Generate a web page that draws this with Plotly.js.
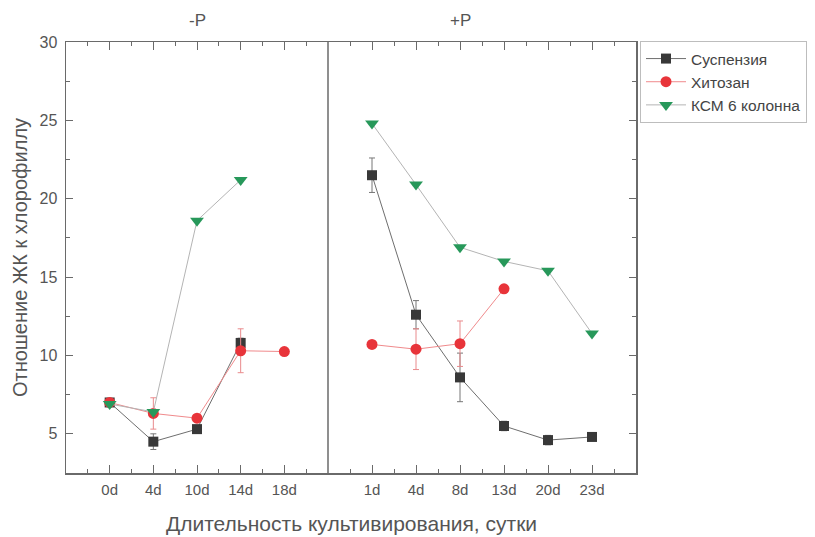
<!DOCTYPE html>
<html>
<head>
<meta charset="utf-8">
<script src="https://cdn.plot.ly/plotly-3.0.1.min.js"></script>
<style>html,body{margin:0;padding:0;background:#fff;}#chart{width:815px;height:537px;}</style>
</head>
<body>
<div id="chart"></div>
<script>
// Categories
const daysMinusP = ["0d", "4d", "10d", "14d", "18d"];
const daysPlusP = ["1d", "4d", "8d", "13d", "20d", "23d"];
const seriesNames = ["Суспензия", "Хитозан", "КСМ 6 колонна"];

// -P panel values
const suspMinus = [7.0, 4.5, 5.3, 10.8, null];
const suspMinusErr = [0.15, 0.5, 0.2, 0.3, 0];
const chitMinus = [7.0, 6.3, 6.0, 10.3, 10.25];
const chitMinusErr = [0.15, 1.0, 0.2, 1.4, 0.1];
const ksmMinus = [6.9, 6.4, 18.6, 21.2, null];

// +P panel values
const suspPlus = [21.5, 12.6, 8.6, 5.5, 4.6, 4.8];
const suspPlusErr = [1.1, 0.9, 1.55, 0.3, 0.3, 0.1];
const chitPlus = [10.7, 10.4, 10.75, 14.25, null, null];
const chitPlusErr = [0.1, 1.3, 1.45, 0.1, 0, 0];
const ksmPlus = [24.8, 20.9, 16.9, 16.0, 15.4, 11.4];

const idxMinus = daysMinusP.map((d, i) => i);
const idxPlus = daysPlusP.map((d, i) => i);

const cBlack = "#383838", cRed = "#e8343a", cGreen = "#27985a";
const lBlack = "#6e6e6e", lRed = "#f08a8c", lGreen = "#b4b4b4";

function tr(x, y, err, name, xa, ya, mcol, lcol, sym, size, show, ecol) {
  const t = {
    x: x, y: y, name: name, xaxis: xa, yaxis: ya, type: "scatter",
    mode: "lines+markers", connectgaps: false, showlegend: show, legendgroup: name,
    line: {color: lcol, width: 1},
    marker: {color: mcol, symbol: sym, size: size, line: {width: 0}}
  };
  if (err) t.error_y = {type: "data", array: err, visible: true, color: ecol, thickness: 1, width: 3};
  return t;
}

const data = [
  tr(idxMinus, suspMinus, suspMinusErr, seriesNames[0], "x", "y", cBlack, lBlack, "square", 10, true, "#777"),
  tr(idxMinus, chitMinus, chitMinusErr, seriesNames[1], "x", "y", cRed, lRed, "circle", 11, true, "#e98a8c"),
  tr(idxMinus, ksmMinus, null, seriesNames[2], "x", "y", cGreen, lGreen, "triangle-down", 12, true),
  tr(idxPlus, suspPlus, suspPlusErr, seriesNames[0], "x2", "y2", cBlack, lBlack, "square", 10, false, "#777"),
  tr(idxPlus, chitPlus, chitPlusErr, seriesNames[1], "x2", "y2", cRed, lRed, "circle", 11, false, "#e98a8c"),
  tr(idxPlus, ksmPlus, null, seriesNames[2], "x2", "y2", cGreen, lGreen, "triangle-down", 12, false)
];

const split = 262 / 570;
const axCol = "#6a6a6a";
const fam = "Liberation Sans, Arial, sans-serif";
const xTickFont = {family: fam, size: 15, color: "#555"};
const yTickFont = {family: fam, size: 16, color: "#555"};

function xAxis(dom, n, labels, anchor) {
  const half = [];
  for (let i = -1; i < n; i++) half.push(i + 0.5);
  return {
    domain: dom, anchor: anchor, range: [-1, n], tickmode: "array",
    tickvals: labels.map((d, i) => i), ticktext: labels,
    ticks: "inside", ticklen: 8, tickwidth: 1, tickcolor: axCol,
    minor: {tickmode: "array", tickvals: half, ticks: "inside", ticklen: 4, tickcolor: axCol, tickwidth: 1, showgrid: false},
    showline: true, linecolor: axCol, linewidth: 1.5, mirror: "ticks",
    showgrid: false, zeroline: false, tickfont: xTickFont, ticklabelstandoff: 2, fixedrange: true
  };
}

const yBase = {
  range: [2.5, 30], tickvals: [5, 10, 15, 20, 25, 30],
  ticks: "inside", ticklen: 7, tickwidth: 1, tickcolor: axCol,
  minor: {tickvals: [7.5, 12.5, 17.5, 22.5, 27.5], ticks: "inside", ticklen: 4, tickcolor: axCol, tickwidth: 1, showgrid: false},
  showline: true, linecolor: axCol, linewidth: 1.5,
  showgrid: false, zeroline: false, tickfont: yTickFont, fixedrange: true
};

const layout = {
  width: 815, height: 537,
  margin: {l: 66, r: 179, t: 42, b: 64, autoexpand: false},
  paper_bgcolor: "#fff", plot_bgcolor: "#fff",
  font: {family: fam, color: "#555"},
  xaxis: xAxis([0, split], 5, daysMinusP, "y"),
  xaxis2: xAxis([split, 1], 6, daysPlusP, "y2"),
  yaxis: Object.assign({}, yBase, {anchor: "x", side: "left", ticklabelstandoff: 4,
    title: {text: "Отношение ЖК к хлорофиллу", font: {size: 20, color: "#555"}, standoff: 6}}),
  yaxis2: Object.assign({}, yBase, {anchor: "x2", side: "right", matches: "y", showticklabels: false}),
  showlegend: true,
  legend: {
    xref: "container", yref: "container",
    x: 640 / 815, y: 1 - 41 / 537, xanchor: "left", yanchor: "top",
    bordercolor: "#bdbdbd", borderwidth: 1, bgcolor: "#fff",
    font: {family: fam, size: 15.5, color: "#444"},
    itemwidth: 40, tracegroupgap: 0
  },
  shapes: [
    {type: "line", xref: "paper", yref: "paper", x0: split, x1: split, y0: 0, y1: 1,
     line: {color: axCol, width: 1.5}}
  ],
  annotations: [
    {text: "-P", xref: "x", yref: "paper", x: 2, y: 1.05, yanchor: "middle", showarrow: false,
     font: {size: 17, color: "#555"}},
    {text: "+P", xref: "x2", yref: "paper", x: 2, y: 1.05, yanchor: "middle", showarrow: false,
     font: {size: 17, color: "#555"}},
    {text: "Длительность культивирования, сутки", xref: "paper", yref: "paper", x: 0.5, y: -0.117,
     yanchor: "middle", showarrow: false, font: {size: 21, color: "#555"}}
  ]
};

Plotly.newPlot("chart", data, layout, {displayModeBar: false, staticPlot: true});
</script>
</body>
</html>
